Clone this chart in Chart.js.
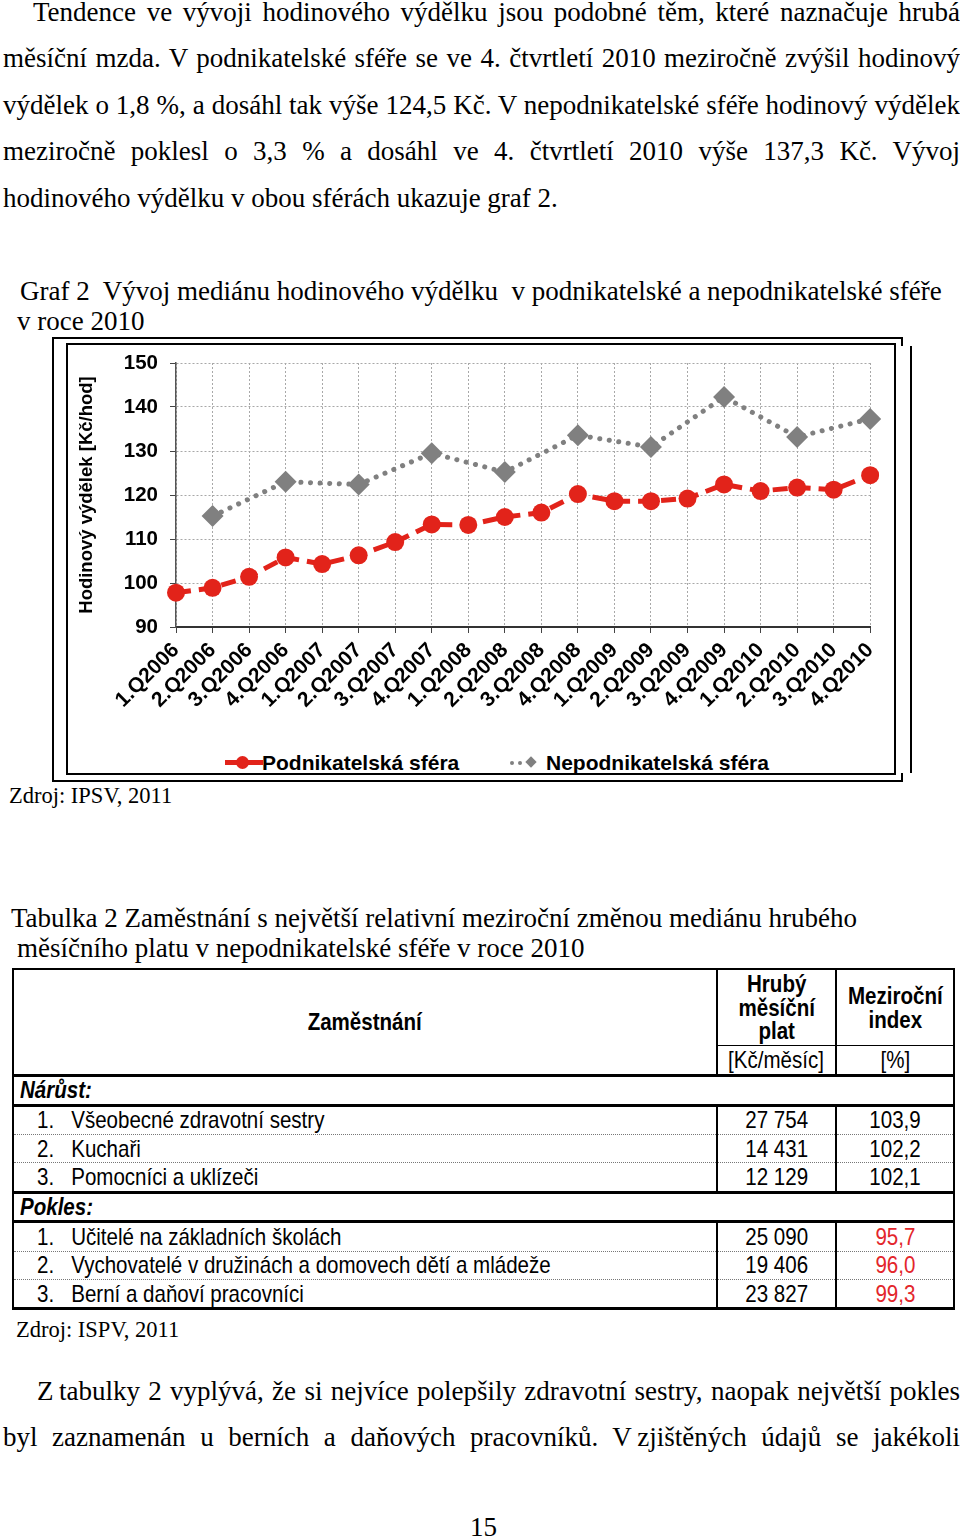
<!DOCTYPE html>
<html lang="cs">
<head>
<meta charset="utf-8">
<script src="https://cdn.jsdelivr.net/npm/chart.js@4.4.0/dist/chart.umd.min.js"></script>
<style>
body { margin:0; background:#fff; }
#page { position:relative; width:960px; height:1539px; overflow:hidden; font-family:"Liberation Serif","Times New Roman",serif; color:#000; }
.ln { position:absolute; font-size:27px; line-height:32px; white-space:nowrap; }
.ln.just { white-space:normal; text-align:justify; text-align-last:justify; }
.box { position:absolute; background:#000; }
#chartWrap { position:absolute; left:69px; top:347px; width:824px; height:395px; }
.leg { position:absolute; font-family:"Liberation Sans",Arial,sans-serif; font-weight:bold; font-size:21px; line-height:24px; white-space:nowrap; color:#000; }
#tab { position:absolute; left:12px; top:968px; width:941px; border-collapse:collapse; table-layout:fixed; border:2px solid #000;
  font-family:"Liberation Sans",Arial,sans-serif; font-size:24px; line-height:20px; }
#tab th, #tab td { padding:0; border-left:2px solid #000; white-space:nowrap; }
#tab .h1 th { height:75px; font-weight:bold; line-height:23.5px; }
#tab .h1 th.sub { border-bottom:1.5px solid #000; }
#tab .h1 th.main { border-bottom:3px solid #000; }
#tab .h2 td { height:28px; text-align:center; border-bottom:3px solid #000; }
#tab .grp td { height:26.5px; font-style:italic; font-weight:bold; padding-left:6px; border-bottom:3px solid #000; }
#tab .row td { height:27.4px; border-bottom:1px dotted #777; }
#tab .row.last td { border-bottom:3px solid #000; }
#tab .row td.first { padding-left:23px; }
#tab .row td.c { text-align:center; }
#tab .row td.red { color:#e3262b; }
.nx { display:inline-block; transform:scaleX(0.855); transform-origin:50% 50%; }
.nx.l { transform-origin:0 50%; }
.num { display:inline-block; width:40px; }
</style>
</head>
<body>
<div id="page">
  <div class="box" style="left:52px;top:337px;width:851px;height:2px"></div>
  <div class="box" style="left:52px;top:337px;width:2px;height:445px"></div>
  <div class="box" style="left:52px;top:780px;width:851px;height:2px"></div>
  <div class="box" style="left:901px;top:337px;width:2px;height:9px"></div>
  <div class="box" style="left:910px;top:346px;width:2px;height:427px"></div>
  <div class="box" style="left:901px;top:773px;width:2px;height:9px"></div>
  <div style="position:absolute;left:66px;top:343px;width:826px;height:428px;border:2.5px solid #000"></div>

  <div id="chartWrap"><canvas id="graf" width="824" height="395"></canvas></div>

  <div class="box" style="left:225px;top:760px;width:38px;height:5px;background:#e2231a"></div>
  <div class="box" style="left:236px;top:756px;width:13px;height:13px;border-radius:50%;background:#e2231a"></div>
  <div class="leg" style="left:262px;top:751px">Podnikatelská sféra</div>
  <div class="box" style="left:510px;top:761px;width:4px;height:4px;border-radius:50%;background:#808080"></div>
  <div class="box" style="left:518px;top:761px;width:4px;height:4px;border-radius:50%;background:#808080"></div>
  <div class="box" style="left:527px;top:758px;width:8px;height:8px;transform:rotate(45deg);background:#808080"></div>
  <div class="leg" style="left:546px;top:751px">Nepodnikatelská sféra</div>

  <table id="tab">
    <colgroup><col style="width:704px"><col style="width:119px"><col style="width:118px"></colgroup>
    <thead>
      <tr class="h1"><th class="main" rowspan="2"><span class="nx">Zaměstnání</span></th><th class="sub"><span class="nx">Hrubý<br>měsíční<br>plat</span></th><th class="sub"><span class="nx">Meziroční<br>index</span></th></tr>
      <tr class="h2"><td><span class="nx">[Kč/měsíc]</span></td><td><span class="nx">[%]</span></td></tr>
    </thead>
    <tbody id="tb"></tbody>
  </table>
</div>

<script>
// graf 2 - median hodinoveho vydelku
const quarters = ['1.Q2006','2.Q2006','3.Q2006','4.Q2006','1.Q2007','2.Q2007','3.Q2007','4.Q2007',
  '1.Q2008','2.Q2008','3.Q2008','4.Q2008','1.Q2009','2.Q2009','3.Q2009','4.Q2009',
  '1.Q2010','2.Q2010','3.Q2010','4.Q2010'];
const podnikatelska = [97.8, 98.9, 101.4, 105.8, 104.3, 106.3, 109.3, 113.3, 113.2, 115.0,
  116.0, 120.2, 118.6, 118.6, 119.2, 122.4, 120.9, 121.7, 121.2, 124.5];
const nepodnikatelska = [null, 115.2, null, 123.0, null, 122.4, null, 129.5, null, 125.2,
  null, 133.6, null, 130.9, null, 142.3, null, 133.2, null, 137.3];
const yMin = 90, yMax = 150, yStep = 10;

// tabulka 2
const skupiny = ['Nárůst:', 'Pokles:'];
const rustZamestnani = ['Všeobecné zdravotní sestry', 'Kuchaři', 'Pomocníci a uklízeči'];
const rustPlat = ['27 754', '14 431', '12 129'];
const rustIndex = ['103,9', '102,2', '102,1'];
const poklesZamestnani = ['Učitelé na základních školách', 'Vychovatelé v družinách a domovech dětí a mládeže', 'Berní a daňoví pracovníci'];
const poklesPlat = ['25 090', '19 406', '23 827'];
const poklesIndex = ['95,7', '96,0', '99,3'];

// text stranky: [text, left, right, stred y, do bloku]
const lines = [
  ['Tendence ve vývoji hodinového výdělku jsou podobné těm, které naznačuje hrubá', 33, 960, 12, true],
  ['měsíční mzda. V podnikatelské sféře se ve 4. čtvrtletí 2010 meziročně zvýšil hodinový', 3, 960, 58, true],
  ['výdělek o 1,8 %, a dosáhl tak výše 124,5 Kč. V nepodnikatelské sféře hodinový výdělek', 3, 960, 105, true],
  ['meziročně poklesl o 3,3 % a dosáhl ve 4. čtvrtletí 2010 výše 137,3 Kč. Vývoj', 3, 960, 151, true],
  ['hodinového výdělku v obou sférách ukazuje graf 2.', 3, 0, 198, false],
  ['Graf 2\u00a0 Vývoj mediánu hodinového výdělku\u00a0 v podnikatelské a nepodnikatelské sféře', 20, 0, 291, false],
  ['v roce 2010', 17, 0, 321, false],
  ['Zdroj: IPSV, 2011', 9, 0, 796, false, 22.5],
  ['Tabulka 2 Zaměstnání s největší relativní meziroční změnou mediánu hrubého', 11, 0, 918, false],
  ['měsíčního platu v nepodnikatelské sféře v roce 2010', 17, 0, 948, false],
  ['Zdroj: ISPV, 2011', 16, 0, 1330, false, 22.5],
  ['Z\u2009tabulky 2 vyplývá, že si nejvíce polepšily zdravotní sestry, naopak největší pokles', 37, 960, 1391, true],
  ['byl zaznamenán u berních a daňových pracovníků. V\u2009zjištěných údajů se jakékoli', 3, 960, 1437, true],
  ['15', 470, 0, 1527, false]
];

const page = document.getElementById('page');
lines.forEach(function (l) {
  const d = document.createElement('div');
  d.className = 'ln' + (l[4] ? ' just' : '');
  d.textContent = l[0];
  d.style.left = l[1] + 'px';
  d.style.top = (l[3] - 16) + 'px';
  if (l[4]) d.style.width = (l[2] - l[1]) + 'px';
  if (l[5]) d.style.fontSize = l[5] + 'px';
  page.appendChild(d);
});

const tb = document.getElementById('tb');
function addGroup(name, zam, plat, idx, red) {
  let tr = document.createElement('tr');
  tr.className = 'grp';
  tr.innerHTML = '<td colspan="3"><span class="nx l">' + name + '</span></td>';
  tb.appendChild(tr);
  for (let i = 0; i < zam.length; i++) {
    tr = document.createElement('tr');
    tr.className = 'row' + (i == zam.length - 1 ? ' last' : '');
    tr.innerHTML = '<td class="first"><span class="nx l"><span class="num">' + (i + 1) + '.</span>' + zam[i] + '</span></td>' +
      '<td class="c"><span class="nx">' + plat[i] + '</span></td>' +
      '<td class="c' + (red ? ' red' : '') + '"><span class="nx">' + idx[i] + '</span></td>';
    tb.appendChild(tr);
  }
}
addGroup(skupiny[0], rustZamestnani, rustPlat, rustIndex, false);
addGroup(skupiny[1], poklesZamestnani, poklesPlat, poklesIndex, true);

const ctx = document.getElementById('graf').getContext('2d');
const sansBold = { family: '"Liberation Sans", Arial, sans-serif', weight: 'bold' };

new Chart(ctx, {
  type: 'line',
  data: {
    labels: quarters,
    datasets: [{
      label: 'Podnikatelská sféra',
      data: podnikatelska,
      borderColor: '#e2231a',
      backgroundColor: '#e2231a',
      borderWidth: 5,
      borderDash: [15, 8],
      pointStyle: 'circle',
      pointRadius: 9,
      pointHoverRadius: 9,
      pointBorderWidth: 0,
      tension: 0
    },
    {
      label: 'Nepodnikatelská sféra',
      data: nepodnikatelska,
      spanGaps: true,
      borderColor: '#808080',
      backgroundColor: '#808080',
      borderWidth: 5,
      borderDash: [0.1, 9.5],
      borderCapStyle: 'round',
      pointStyle: 'rectRot',
      pointRadius: 11,
      pointHoverRadius: 11,
      pointBorderWidth: 0,
      tension: 0
    }]
  },
  options: {
    responsive: false,
    animation: false,
    layout: { padding: { top: 16, right: 20, left: 0, bottom: 0 } },
    plugins: { legend: { display: false }, tooltip: { enabled: false } },
    scales: {
      x: {
        offset: false,
        grid: { color: '#a8a8a8', tickColor: '#444', tickLength: 6 },
        border: { color: '#333', width: 2, dash: [2, 2] },
        ticks: { color: '#000', font: Object.assign({ size: 21 }, sansBold), maxRotation: 45, minRotation: 45, autoSkip: false, padding: 5 },
        afterFit: function (scale) { scale.height = 115; }
      },
      y: {
        min: yMin,
        max: yMax,
        grid: { color: '#a8a8a8', tickColor: '#444', tickLength: 6 },
        border: { color: '#555', width: 1.5, dash: [2, 2] },
        ticks: { stepSize: yStep, color: '#000', font: Object.assign({ size: 20.5 }, sansBold), padding: 12 },
        title: { display: true, text: 'Hodinový výdělek [Kč/hod]', color: '#000', font: Object.assign({ size: 18.5 }, sansBold), padding: { top: 7, bottom: 0 } },
        afterFit: function (scale) {
          scale.width = 107;
          // popisky nesmi posouvat horni okraj grafu
          scale.paddingTop = 0;
          scale.paddingBottom = 0;
        }
      }
    }
  }
});
</script>
</body>
</html>
